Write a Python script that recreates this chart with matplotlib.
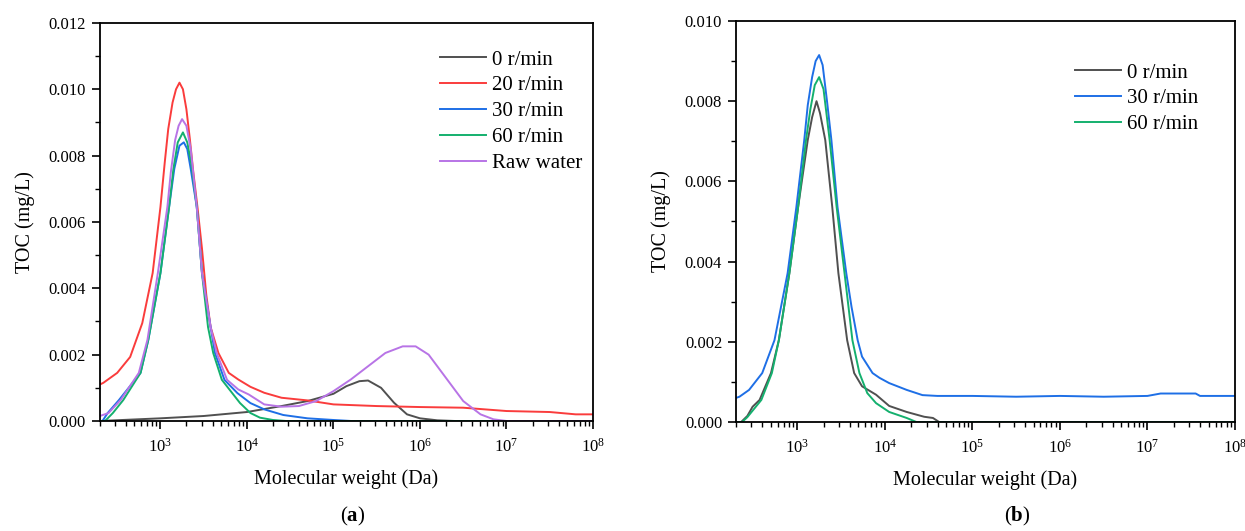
import matplotlib
matplotlib.use("Agg")
import matplotlib.pyplot as plt
import numpy as np
from matplotlib.ticker import MultipleLocator, LogLocator

plt.rcParams['font.family'] = ['Liberation Serif', 'DejaVu Serif']
plt.rcParams['mathtext.fontset'] = 'custom'
plt.rcParams['mathtext.rm'] = 'Liberation Serif'
plt.rcParams['mathtext.bf'] = 'Liberation Serif:bold'

# ---- panel (a): log10(MW, Da) and TOC (mg/L) ----
a_black_lx = [2.30, 3.00, 3.50, 4.00, 4.40, 4.70, 5.00, 5.15, 5.30, 5.40, 5.55, 5.70, 5.85, 6.00, 6.20, 6.40, 8.00]
a_black_y = [0.0, 0.00008, 0.00015, 0.00027, 0.00045, 0.00060, 0.00082, 0.00105, 0.00120, 0.00122,
             0.00100, 0.00055, 0.00020, 0.00008, 0.00002, 0.0, 0.0]

a_red_lx = [2.30, 2.34, 2.50, 2.65, 2.79, 2.91, 3.00, 3.05, 3.09, 3.14, 3.18, 3.22, 3.26, 3.30, 3.34,
            3.38, 3.43, 3.48, 3.53, 3.58, 3.67, 3.79, 3.90, 4.04, 4.20, 4.40, 4.70, 5.00, 5.50, 6.00,
            6.50, 7.00, 7.50, 7.80, 8.00]
a_red_y = [0.00110, 0.00115, 0.00145, 0.00193, 0.00295, 0.00446, 0.00645, 0.00780, 0.00880, 0.00960,
           0.01000, 0.01020, 0.01000, 0.00940, 0.00850, 0.00750, 0.00640, 0.00520, 0.00380, 0.00283,
           0.00205, 0.00145, 0.00125, 0.00103, 0.00085, 0.00070, 0.00062, 0.00050, 0.00045, 0.00042,
           0.00040, 0.00030, 0.00027, 0.00020, 0.00020]

a_blue_lx = [2.30, 2.33, 2.39, 2.52, 2.77, 2.86, 3.00, 3.10, 3.16, 3.22, 3.27, 3.31, 3.35, 3.42, 3.48,
             3.58, 3.63, 3.74, 3.89, 4.04, 4.20, 4.42, 4.70, 5.00, 5.20, 8.00]
a_blue_y = [0.0, 0.0, 0.00024, 0.00063, 0.00145, 0.00245, 0.00446, 0.00645, 0.00760, 0.00830,
            0.00840, 0.00820, 0.00760, 0.00645, 0.00446, 0.00283, 0.00205, 0.00124, 0.00084, 0.00054,
            0.00035, 0.00018, 0.00008, 0.00003, 0.0, 0.0]

a_green_lx = [2.30, 2.36, 2.45, 2.57, 2.77, 2.86, 3.00, 3.10, 3.15, 3.20, 3.26, 3.31, 3.36, 3.42, 3.48,
              3.55, 3.61, 3.71, 3.83, 3.92, 4.04, 4.15, 4.30, 4.45, 8.00]
a_green_y = [0.0, 0.0, 0.00024, 0.00063, 0.00145, 0.00245, 0.00446, 0.00645, 0.00760, 0.00840,
             0.00870, 0.00840, 0.00770, 0.00645, 0.00446, 0.00283, 0.00205, 0.00124, 0.00084, 0.00054,
             0.00024, 0.00010, 0.00003, 0.0, 0.0]

a_purple_lx = [2.30, 2.40, 2.54, 2.75, 2.85, 2.97, 3.08, 3.12, 3.17, 3.21, 3.25, 3.30, 3.35, 3.42, 3.48,
               3.58, 3.65, 3.77, 3.90, 4.02, 4.20, 4.40, 4.60, 4.80, 5.00, 5.20, 5.40, 5.60, 5.80, 5.95,
               6.10, 6.30, 6.50, 6.70, 6.85, 7.00, 8.00]
a_purple_y = [0.00015, 0.00024, 0.00063, 0.00145, 0.00245, 0.00446, 0.00645, 0.00750, 0.00847, 0.00890,
              0.00910, 0.00890, 0.00820, 0.00645, 0.00446, 0.00283, 0.00205, 0.00124, 0.00095, 0.00080,
              0.00050, 0.00043, 0.00045, 0.00060, 0.00090, 0.00125, 0.00165, 0.00205, 0.00225, 0.00225,
              0.00200, 0.00130, 0.00060, 0.00020, 0.00005, 0.0, 0.0]

# ---- panel (b) ----
b_black_lx = [2.30, 2.36, 2.43, 2.49, 2.57, 2.70, 2.79, 2.91, 3.01, 3.12, 3.17, 3.22, 3.26, 3.32, 3.40,
              3.47, 3.57, 3.65, 3.74, 3.90, 4.05, 4.25, 4.45, 4.55, 4.62, 8.00]
b_black_y = [0.0, 0.0, 0.00015, 0.00038, 0.00055, 0.00122, 0.00204, 0.00371, 0.00536, 0.00703,
             0.00760, 0.00800, 0.00770, 0.00703, 0.00536, 0.00371, 0.00204, 0.00122, 0.00089, 0.00068,
             0.00040, 0.00025, 0.00013, 0.00010, 0.0, 0.0]

b_blue_lx = [2.30, 2.34, 2.45, 2.60, 2.74, 2.89, 2.99, 3.08, 3.12, 3.17, 3.21, 3.25, 3.29, 3.34, 3.39,
             3.46, 3.56, 3.62, 3.69, 3.74, 3.86, 3.94, 4.05, 4.25, 4.43, 4.60, 5.00, 5.50, 6.00, 6.50,
             7.00, 7.15, 7.55, 7.60, 8.00]
b_blue_y = [0.00060, 0.00063, 0.00080, 0.00122, 0.00204, 0.00371, 0.00536, 0.00703, 0.00790, 0.00860,
            0.00900, 0.00915, 0.00890, 0.00800, 0.00703, 0.00536, 0.00371, 0.00287, 0.00204, 0.00163,
            0.00122, 0.00110, 0.00097, 0.00080, 0.00067, 0.00065, 0.00065, 0.00063, 0.00065, 0.00063,
            0.00065, 0.00071, 0.00071, 0.00065, 0.00065]

b_green_lx = [2.30, 2.37, 2.43, 2.59, 2.71, 2.79, 2.91, 3.01, 3.10, 3.15, 3.20, 3.25, 3.30, 3.37, 3.45,
              3.54, 3.63, 3.71, 3.80, 3.90, 4.05, 4.25, 4.36, 8.00]
b_green_y = [0.0, 0.0, 0.00012, 0.00055, 0.00122, 0.00204, 0.00371, 0.00536, 0.00703, 0.00780,
             0.00840, 0.00860, 0.00830, 0.00703, 0.00536, 0.00371, 0.00204, 0.00122, 0.00072, 0.00047,
             0.00025, 0.00010, 0.0, 0.0]

c_black = '#505050'
c_red = '#fa3c3c'
c_blue = '#1e6fe6'
c_green = '#14b06e'
c_purple = '#b874e6'

fig = plt.figure(figsize=(12.45, 5.31), dpi=100)
ax1 = fig.add_axes([0.0803, 0.2072, 0.396, 0.7496])
ax2 = fig.add_axes([0.5912, 0.2053, 0.4008, 0.7552])

lw = 1.4
ax1.plot(10 ** np.array(a_black_lx), a_black_y, color=c_black, lw=lw, label='0 r/min')
ax1.plot(10 ** np.array(a_red_lx), a_red_y, color=c_red, lw=lw, label='20 r/min')
ax1.plot(10 ** np.array(a_blue_lx), a_blue_y, color=c_blue, lw=lw, label='30 r/min')
ax1.plot(10 ** np.array(a_green_lx), a_green_y, color=c_green, lw=lw, label='60 r/min')
ax1.plot(10 ** np.array(a_purple_lx), a_purple_y, color=c_purple, lw=lw, label='Raw water')

ax2.plot(10 ** np.array(b_black_lx), b_black_y, color=c_black, lw=lw, label='0 r/min')
ax2.plot(10 ** np.array(b_blue_lx), b_blue_y, color=c_blue, lw=lw, label='30 r/min')
ax2.plot(10 ** np.array(b_green_lx), b_green_y, color=c_green, lw=lw, label='60 r/min')

for ax, ytop in [(ax1, 0.012), (ax2, 0.010)]:
    ax.set_xscale('log')
    ax.set_xlim(200, 1e8)
    ax.set_ylim(0, ytop)
    ax.yaxis.set_major_locator(MultipleLocator(0.002))
    ax.yaxis.set_minor_locator(MultipleLocator(0.001))
    ax.xaxis.set_major_locator(LogLocator(base=10, numticks=12))
    ax.xaxis.set_minor_locator(LogLocator(base=10, subs=np.arange(2, 10), numticks=12))
    ax.yaxis.set_major_formatter(plt.FuncFormatter(lambda v, p: '%.3f' % v))
    ax.tick_params(which='major', direction='out', length=6, width=1.2, labelsize=12, pad=4)
    ax.tick_params(which='minor', direction='out', length=3.5, width=1.0)
    ax.tick_params(axis='x', which='both', top=False, labelsize=12, pad=6)
    ax.tick_params(axis='y', which='both', right=False)
    for s in ax.spines.values():
        s.set_linewidth(1.3)
    ax.set_xlabel('Molecular weight (Da)', fontsize=14.5, labelpad=10)
    ax.set_ylabel('TOC (mg/L)', fontsize=14.5, labelpad=10)

leg_kw = dict(frameon=False, fontsize=15, handlelength=2.2, handletextpad=0.3,
              labelspacing=0.3, borderpad=0, borderaxespad=0)
ax1.legend(loc='upper left', bbox_to_anchor=(0.690, 0.932), **leg_kw)
ax2.legend(loc='upper left', bbox_to_anchor=(0.679, 0.895), **leg_kw)

fig.text(353 / 1245, 1 - 516 / 531, r'($\mathbf{a}$)', ha='center', va='center', fontsize=15)
fig.text(1017 / 1245, 1 - 516 / 531, r'($\mathbf{b}$)', ha='center', va='center', fontsize=15)

fig.savefig('out.png', dpi=100)
